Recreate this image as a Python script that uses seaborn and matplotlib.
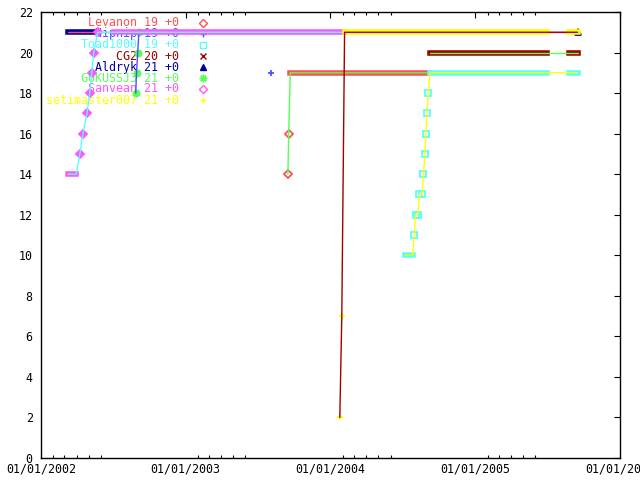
import pandas as pd
import matplotlib
matplotlib.use("Agg")
import matplotlib.pyplot as plt
import matplotlib.dates as mdates
import seaborn as sns

sns.set_theme(style="white")
plt.rcParams['font.family'] = ['DejaVu Sans Mono']

# key order = drawing order
names = ['Levanon', 'Nipnip', 'Toad1000', 'CG2', 'Aldryk', 'GOKUSSJ3', 'Sanvean', 'setimaster007']
final_ranks = [19, 19, 19, 20, 21, 21, 21, 21]
changes = ['+0', '+0', '+0', '+0', '+0', '+0', '+0', '+0']

# single samples (date, rank) and runs of constant rank (start, end, rank)
levanon_dates = ['2003-09-16', '2003-09-18']
levanon_ranks = [14, 16]
levanon_runs = [('2003-09-22', '2004-09-03', 19)]

nipnip_dates = ['2003-08-04']
nipnip_ranks = [19]
nipnip_runs = []

toad_dates = ['2004-07-31', '2004-08-03', '2004-08-09', '2004-08-13', '2004-08-20',
              '2004-08-23', '2004-08-27', '2004-08-29', '2004-09-01', '2004-09-04']
toad_ranks = [11, 12, 12, 13, 13, 14, 15, 16, 17, 18]
toad_runs = [('2004-07-08', '2004-07-27', 10), ('2004-09-09', '2005-07-02', 19),
             ('2005-08-26', '2005-09-16', 19)]

cg2_dates = []
cg2_ranks = []
cg2_runs = [('2004-09-09', '2005-07-02', 20), ('2005-08-26', '2005-09-16', 20)]

aldryk_dates = ['2005-09-16']
aldryk_ranks = [21]
aldryk_runs = [('2002-03-09', '2002-05-16', 21)]

goku_dates = ['2002-08-28', '2002-08-30', '2002-09-02', '2002-09-05']
goku_ranks = [18, 19, 20, 21]
goku_runs = []

sanvean_dates = ['2002-04-09', '2002-04-17', '2002-04-27', '2002-05-04',
                 '2002-05-09', '2002-05-14', '2002-05-24']
sanvean_ranks = [15, 16, 17, 18, 19, 20, 21]
sanvean_runs = [('2002-03-10', '2002-03-31', 14), ('2002-07-05', '2004-02-07', 21)]

seti_dates = ['2004-01-25', '2004-01-30']
seti_ranks = [2, 7]
seti_runs = [('2004-02-06', '2005-07-02', 21), ('2005-08-26', '2005-09-16', 21)]

series = [
    (levanon_dates, levanon_ranks, levanon_runs),
    (nipnip_dates, nipnip_ranks, nipnip_runs),
    (toad_dates, toad_ranks, toad_runs),
    (cg2_dates, cg2_ranks, cg2_runs),
    (aldryk_dates, aldryk_ranks, aldryk_runs),
    (goku_dates, goku_ranks, goku_runs),
    (sanvean_dates, sanvean_ranks, sanvean_runs),
    (seti_dates, seti_ranks, seti_runs),
]

point_colors = ['#ff5050', '#5050ff', '#55ffff', '#a00000', '#0000a0', '#55ff55', '#ff55ff', '#ffff00']
line_colors = ['#55ff55', '#5050ff', '#ffff00', '#55ff55', '#ff5050', '#5050ff', '#55ffff', '#a00000']
markers = ['D', '+', 's', 'x', '^', (8, 2, 0), 'D', '+']
key_hollow = [True, False, True, False, False, False, True, False]
point_hollow = [True, False, True, False, False, False, False, False]
msizes = [4.0, 5.0, 4.0, 4.5, 4.5, 5.5, 4.5, 5.0]

fig = plt.figure(figsize=(6.4, 4.8), dpi=100)
ax = fig.add_axes([41 / 640, 22 / 480, 579 / 640, 446 / 480])

for i, (dates, ranks, runs) in enumerate(series):
    pc, lc = point_colors[i], line_colors[i]
    base = 10 + 3 * i
    # densely sampled periods show up as a solid band of points
    for start, end, rank in runs:
        run_df = pd.DataFrame({'date': pd.to_datetime([start, end]), 'rank': [rank, rank]})
        sns.lineplot(data=run_df, x='date', y='rank', color=pc, linewidth=4.0,
                     solid_capstyle='projecting', ax=ax, zorder=base)
    pts = pd.DataFrame({'date': pd.to_datetime(dates), 'rank': ranks})
    if len(pts):
        sns.lineplot(data=pts, x='date', y='rank', estimator=None, linestyle='none',
                     marker=markers[i], markersize=msizes[i],
                     markerfacecolor='none' if point_hollow[i] else pc,
                     markeredgecolor=pc, markeredgewidth=1.3, color=pc,
                     ax=ax, zorder=base + 1)
    # connecting line through every sample
    ends = [(s, r) for s, e, r in runs] + [(e, r) for s, e, r in runs]
    line_df = pd.concat([pts, pd.DataFrame({'date': pd.to_datetime([d for d, r in ends]),
                                            'rank': [r for d, r in ends]})])
    line_df = line_df.sort_values('date')
    if len(line_df) > 1:
        sns.lineplot(data=line_df, x='date', y='rank', estimator=None, sort=False,
                     color=lc, linewidth=1.0, ax=ax, zorder=base + 2)

# key, drawn under the data like gnuplot does
for i, name in enumerate(names):
    y = 1 - (11 + 11 * i) / 446
    ax.text(0.239, y, f"{name} {final_ranks[i]} {changes[i]}", transform=ax.transAxes,
            ha='right', va='center', color=point_colors[i], fontsize=8.4, zorder=1)
    ax.plot([0.280], [y], transform=ax.transAxes, marker=markers[i], markersize=msizes[i],
            markerfacecolor='none' if key_hollow[i] else point_colors[i],
            markeredgecolor=point_colors[i], markeredgewidth=1.0, linestyle='none', zorder=1)

ax.set_xlim(pd.Timestamp('2002-01-01'), pd.Timestamp('2006-01-01'))
ax.set_ylim(0, 22)
ax.set_xlabel('')
ax.set_ylabel('')
ax.set_yticks(range(0, 23, 2))
ax.xaxis.set_major_locator(mdates.YearLocator())
ax.xaxis.set_minor_locator(mdates.MonthLocator(bymonth=[2, 3, 4, 5, 6]))
ax.xaxis.set_major_formatter(mdates.DateFormatter('%m/%d/%Y'))

for sp in ax.spines.values():
    sp.set_color('black')
    sp.set_linewidth(1.0)
ax.set_facecolor('white')
ax.tick_params(which='major', direction='in', length=4.3, width=0.8, color='black',
               top=True, right=True, labelsize=8.4, labelcolor='black')
ax.tick_params(which='minor', direction='in', length=2.2, width=0.8, color='black',
               top=True, bottom=True)
ax.tick_params(axis='x', which='major', pad=3)
ax.tick_params(axis='y', which='major', pad=6)

fig.savefig('out.png', dpi=100)
